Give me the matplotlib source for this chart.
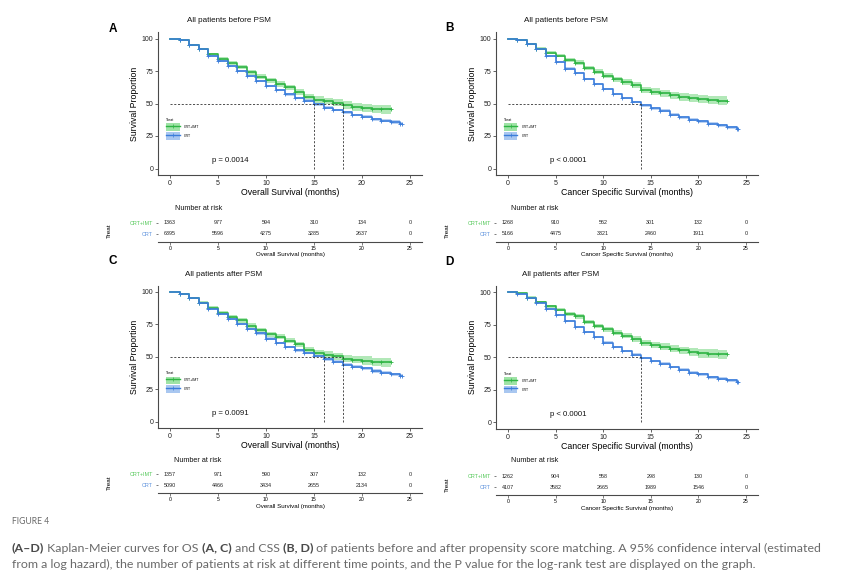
import numpy as np
import matplotlib
matplotlib.use("Agg")
from matplotlib import pyplot as plt
from matplotlib.patches import Patch
from matplotlib.lines import Line2D

W, H = 864, 580
plt.rcParams['font.family'] = ['Liberation Sans', 'DejaVu Sans']

# ---- data ----
risk_months = [0, 5, 10, 15, 20, 25]
groups = ["CRT+IMT", "CRT"]

# survival (%) at month 0,1,2,... ; last step runs to the end time
end_imt = 23
end_crt = 24.2

surv_a_imt = [100, 98.5, 95.3, 91.8, 87.7, 84.4, 81.3, 78.3, 73.9, 70.6, 67.8, 65, 62.4,
              59, 55.2, 53, 52, 50.6, 48.8, 47.6, 46.8, 45.8, 45.4]
surv_a_crt = [100, 98.5, 95, 91.6, 86.7, 82.9, 78.8, 74.7, 71.4, 67.5, 63.4, 60.4, 57,
              54.2, 52.2, 49.4, 46.8, 45, 43.2, 41.2, 40, 38, 36.6, 35.8, 34.6]
surv_b_imt = [100, 99, 95.6, 92.3, 89.2, 86.9, 83.6, 81.5, 77.2, 74.4, 71.5, 68.7, 66.4,
              64.1, 60.5, 59.2, 57.9, 56.4, 54.9, 54.1, 53.3, 52.8, 52.3]
surv_b_crt = [100, 98.5, 95.4, 91.8, 86.7, 82, 76.9, 73.3, 68.7, 65.1, 61, 57.4, 54,
              51.2, 48.6, 46.2, 44.4, 41.5, 39.5, 37.4, 36.4, 34.4, 33.3, 31.8, 30.5]
surv_c_imt = [100, 98.5, 95.3, 91.8, 87.7, 84, 81, 78, 74, 70.5, 67.5, 65.5, 62.5,
              59.5, 55, 53, 51.5, 50.4, 48.6, 47.8, 47, 46, 45.6]
surv_c_crt = [100, 98.5, 95, 91.3, 87, 83, 79, 75.5, 71.5, 68, 64, 60.5, 57.5,
              55, 53, 50.5, 48, 46.3, 44, 42.3, 41, 39, 37.5, 36.5, 35.2]
surv_d_imt = [100, 99, 95.8, 92.3, 89, 86.5, 83.5, 81.3, 77.2, 74, 71.5, 68.7, 66.5,
              64, 60.8, 59.5, 58, 56.5, 55.2, 54, 53, 52.7, 52.2]
surv_d_crt = [100, 98.5, 95.2, 91.6, 87, 82.3, 77.5, 73.5, 69.3, 65.3, 61.3, 58, 54.8,
              52, 49.5, 47, 45, 42.5, 40.3, 38.3, 36.8, 34.8, 33.5, 32.2, 30.8]

# half width of the 95% CI band
ci_imt = [0, 0.5, 0.8, 1.0, 1.2, 1.4, 1.5, 1.6, 1.7, 1.8, 1.9, 2.0, 2.1, 2.2, 2.4,
          2.5, 2.6, 2.8, 2.9, 3.0, 3.2, 3.3, 3.5]
ci_crt = [0, 0.4, 0.5, 0.6, 0.7, 0.7, 0.8, 0.8, 0.8, 0.9, 0.9, 0.9, 0.9, 1.0, 1.0,
          1.0, 1.0, 1.1, 1.1, 1.1, 1.1, 1.2, 1.2, 1.2, 1.2]

median_a = [18, 15]
median_b = [14]
median_c = [18, 16]
median_d = [14]

p_a = "p = 0.0014"
p_b = "p < 0.0001"
p_c = "p = 0.0091"
p_d = "p < 0.0001"

risk_a_imt = [1363, 977, 594, 310, 134, 0]
risk_a_crt = [6395, 5596, 4275, 3285, 2637, 0]
risk_b_imt = [1268, 910, 562, 301, 132, 0]
risk_b_crt = [5166, 4475, 3321, 2460, 1911, 0]
risk_c_imt = [1357, 971, 590, 307, 132, 0]
risk_c_crt = [5090, 4466, 3434, 2655, 2134, 0]
risk_d_imt = [1262, 904, 558, 298, 130, 0]
risk_d_crt = [4107, 3582, 2665, 1989, 1546, 0]

title_before = "All patients before PSM"
title_after = "All patients after PSM"
xlab_os = "Overall Survival (months)"
xlab_css = "Cancer Specific Survival (months)"

# ---- styling ----
GREEN = "#2db443"
GREEN_FILL = "#9fe3a6"
BLUE = "#3b7ddb"
BLUE_FILL = "#a9c7f0"
GREEN_LAB = "#55c95a"
BLUE_LAB = "#5d92dd"
AXC = "#4a4a4a"


def rect(l, t, r, b):
    return [l / W, 1 - b / H, (r - l) / W, (b - t) / H]


fig = plt.figure(figsize=(W / 100, H / 100), dpi=100)


def draw_curve(ax, surv, ci, end, color, fill):
    s = np.array(surv, dtype=float)
    c = np.array(ci, dtype=float)
    t = np.arange(len(s))
    tx = np.append(t, end)
    sy = np.append(s, s[-1])
    lo = np.append(s - c, s[-1] - c[-1])
    hi = np.append(s + c, s[-1] + c[-1])
    ax.fill_between(tx, lo, hi, step='post', color=fill, alpha=0.8, lw=0)
    ax.step(tx, sy, where='post', color=color, lw=1.2)
    ax.plot(t[1:], s[1:], ls='none', marker='+', color=color, ms=3, mew=0.6)
    ax.plot([end], [s[-1]], ls='none', marker='+', color=color, ms=3, mew=0.6)


def survival_panel(box, surv_imt, surv_crt, medians, ptext, xlab):
    ax = fig.add_axes(rect(*box))
    draw_curve(ax, surv_imt, ci_imt, end_imt, GREEN, GREEN_FILL)
    draw_curve(ax, surv_crt, ci_crt, end_crt, BLUE, BLUE_FILL)
    ax.plot([0, max(medians)], [50, 50], color='#333333', lw=0.6, ls=(0, (2.5, 2)))
    for m in medians:
        ax.plot([m, m], [0, 50], color='#333333', lw=0.6, ls=(0, (2.5, 2)))
    ax.set_xlim(-1.25, 26.25)
    ax.set_ylim(-5, 105)
    ax.set_xticks([0, 5, 10, 15, 20, 25])
    ax.set_yticks([0, 25, 50, 75, 100])
    for sp in ['top', 'right']:
        ax.spines[sp].set_visible(False)
    for sp in ['left', 'bottom']:
        ax.spines[sp].set_color(AXC)
        ax.spines[sp].set_linewidth(0.8)
    ax.tick_params(labelsize=5, length=2, width=0.6, color=AXC, pad=1.5, labelcolor='#222222')
    ax.set_ylabel("Survival Proportion", fontsize=6.3, labelpad=2)
    ax.set_xlabel(xlab, fontsize=6.3, labelpad=1)
    ax.text(4.4, 6, ptext, fontsize=5.6, va='center', ha='left', color='#111111')
    handles = [
        (Patch(facecolor=GREEN_FILL, edgecolor='none'),
         Line2D([], [], color=GREEN, lw=1, marker='+', ms=2.5, mew=0.5)),
        (Patch(facecolor=BLUE_FILL, edgecolor='none'),
         Line2D([], [], color=BLUE, lw=1, marker='+', ms=2.5, mew=0.5)),
    ]
    ax.legend(handles, groups, title="Treat", fontsize=2.6, title_fontsize=2.6,
              frameon=False, loc='upper left', bbox_to_anchor=(0.02, 0.415),
              handlelength=3.8, handleheight=2.8, labelspacing=0.35,
              handletextpad=1.2, borderpad=0.2, alignment='left')
    return ax


def risk_table(box, risk_imt, risk_crt, xlab):
    ax = fig.add_axes(rect(*box))
    for x, n in zip(risk_months, risk_imt):
        ax.text(x, 2, str(n), fontsize=3.9, ha='center', va='center', color='#222222')
    for x, n in zip(risk_months, risk_crt):
        ax.text(x, 1, str(n), fontsize=3.9, ha='center', va='center', color='#222222')
    ax.set_xlim(-1.25, 26.25)
    ax.set_ylim(0.3, 2.5)
    ax.set_xticks([0, 5, 10, 15, 20, 25])
    ax.set_yticks([2, 1])
    ax.set_yticklabels(groups)
    ax.get_yticklabels()[0].set_color(GREEN_LAB)
    ax.get_yticklabels()[1].set_color(BLUE_LAB)
    for sp in ['top', 'right', 'left']:
        ax.spines[sp].set_visible(False)
    ax.spines['bottom'].set_color(AXC)
    ax.spines['bottom'].set_linewidth(0.8)
    ax.tick_params(axis='x', labelsize=3.7, length=1.8, width=0.5, color=AXC, pad=1)
    ax.tick_params(axis='y', labelsize=3.9, length=1.8, width=0.5, color=AXC, pad=2)
    ax.set_xlabel(xlab, fontsize=4.4, labelpad=1)
    ax.set_ylabel("Treat", fontsize=4.6)
    ax.yaxis.set_label_coords(-0.175, 0.45)
    return ax


# panel A
survival_panel((158, 32, 422, 175), surv_a_imt, surv_a_crt, median_a, p_a, xlab_os)
risk_table((158, 217, 422, 241.7), risk_a_imt, risk_a_crt, xlab_os)
# panel B
survival_panel((496, 32, 758, 175), surv_b_imt, surv_b_crt, median_b, p_b, xlab_css)
risk_table((496, 217, 758, 241.7), risk_b_imt, risk_b_crt, xlab_css)
# panel C
survival_panel((158, 285.5, 422, 428), surv_c_imt, surv_c_crt, median_c, p_c, xlab_os)
risk_table((158, 468.5, 422, 493.4), risk_c_imt, risk_c_crt, xlab_os)
# panel D
survival_panel((496, 285.5, 758, 429), surv_d_imt, surv_d_crt, median_d, p_d, xlab_css)
risk_table((496, 470.5, 758, 495.4), risk_d_imt, risk_d_crt, xlab_css)

# titles, letters, "Number at risk"
for x, y, s in [(187, 21, title_before), (524, 21, title_before),
                (185, 275, title_after), (522, 275, title_after)]:
    fig.text(x / W, 1 - y / H, s, fontsize=5.8, ha='left', va='center', color='#111111')
for x, y, s in [(113, 29, "A"), (449, 28, "B"), (113, 261, "C"), (449, 262, "D")]:
    fig.text(x / W, 1 - y / H, s, fontsize=8.5, fontweight='bold', ha='center', va='center')
for x, y in [(175, 209), (511, 208), (174, 461), (511, 461)]:
    fig.text(x / W, 1 - y / H, "Number at risk", fontsize=5.2, ha='left', va='center',
             color='#111111')

# caption
cap_font = ['Lato', 'DejaVu Sans']
fig.text(12 / W, 1 - 521 / H, "FIGURE 4", fontsize=6.2, color='#6a6a6a',
         family=cap_font, va='center', ha='left')

line1 = [("(A–D)", True), (" Kaplan-Meier curves for OS ", False), ("(A, C)", True),
         (" and CSS ", False), ("(B, D)", True),
         (" of patients before and after propensity score matching. A 95% confidence interval (estimated", False)]
line2 = [("from a log hazard), the number of patients at risk at different time points, "
          "and the P value for the log-rank test are displayed on the graph.", False)]

renderer = fig.canvas.get_renderer()


def put_line(parts, y, size):
    x = 12
    made = []
    for s, bold in parts:
        t = fig.text(x / W, 1 - y / H, s, fontsize=size, family=cap_font,
                     fontweight='bold' if bold else 'normal',
                     color='#4a4a4a' if bold else '#6a6a6a', va='center', ha='left')
        x += t.get_window_extent(renderer).width
        made.append(t)
    return x, made


# measure both lines at a trial size, then pick one size that fits both on average
e1, m1 = put_line(line1, 548, 7)
e2, m2 = put_line(line2, 564, 7)
for t in m1 + m2:
    t.remove()
size = 0.5 * (7 * (853 - 12) / (e1 - 12) + 7 * (723 - 12) / (e2 - 12))
put_line(line1, 548, size)
put_line(line2, 564, size)

fig.savefig("out.png", dpi=100)
